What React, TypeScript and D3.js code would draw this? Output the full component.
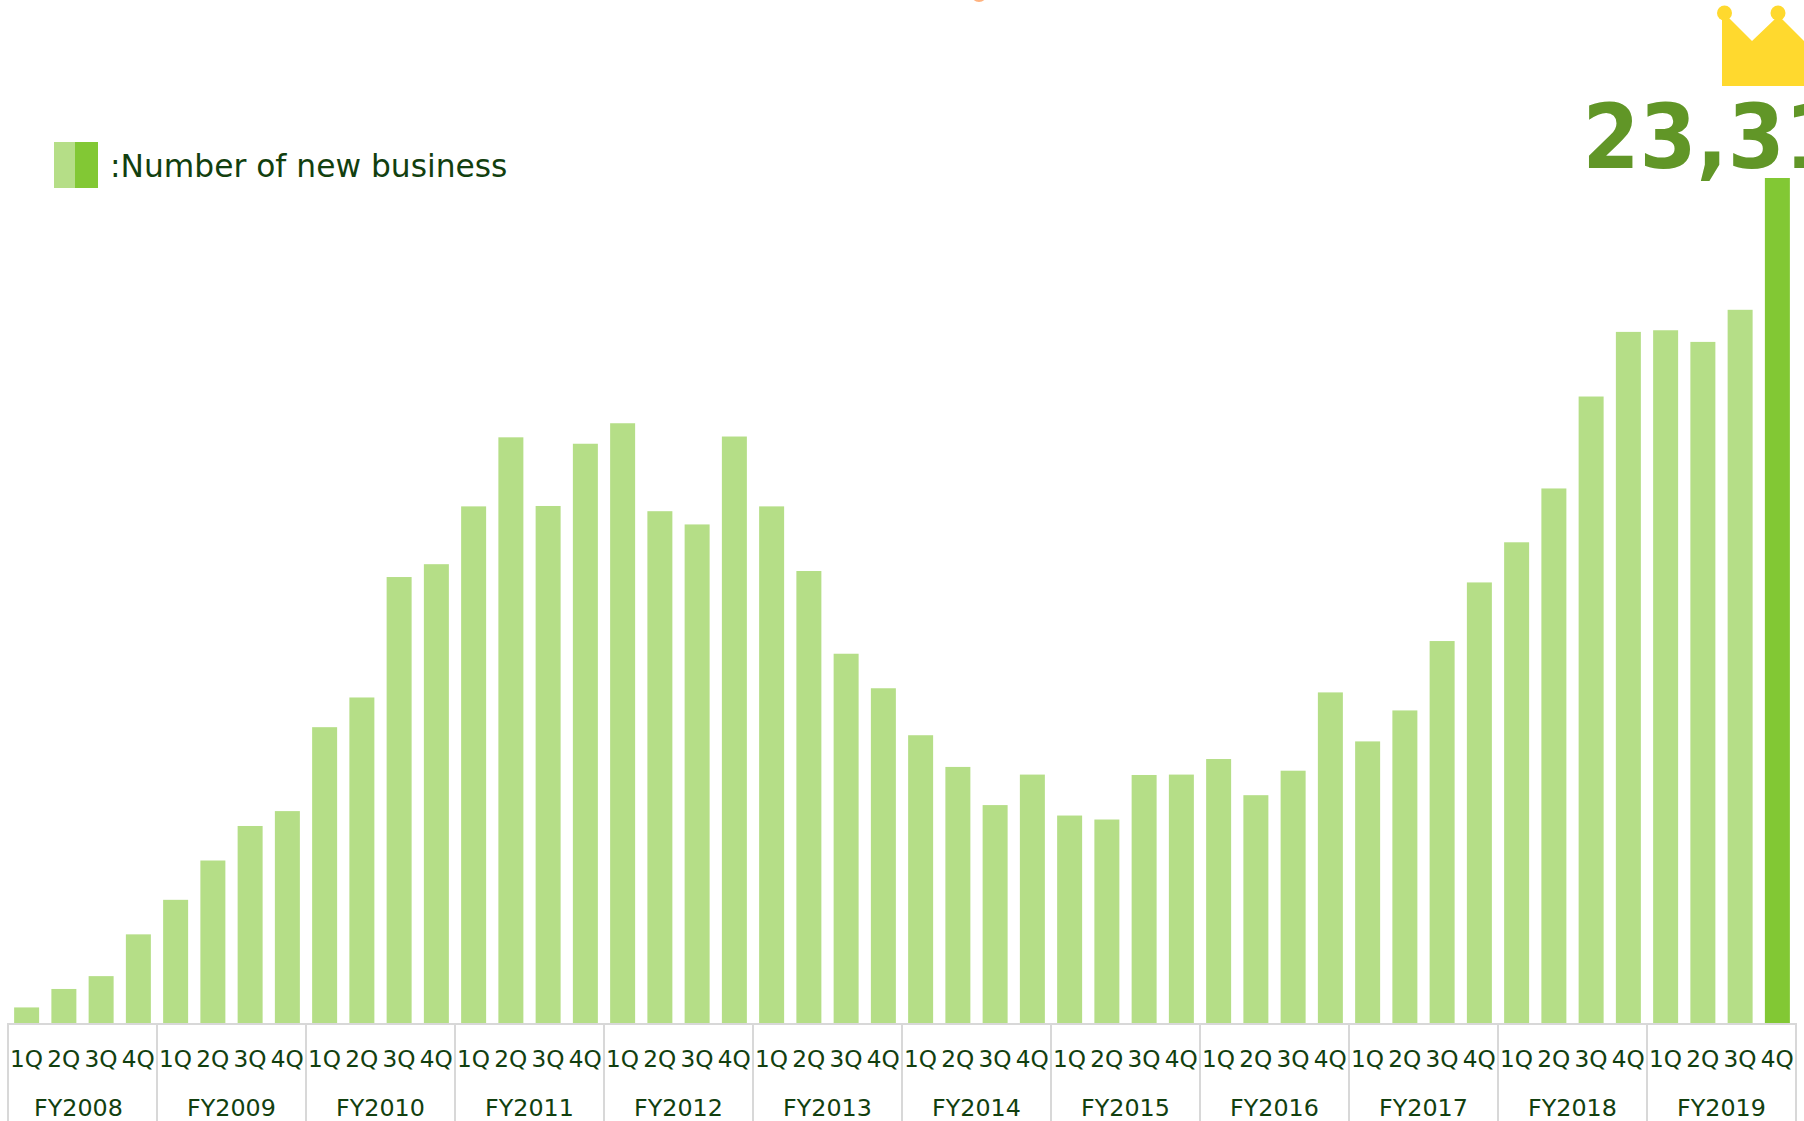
import React, { useMemo } from "react";
import * as d3 from "d3";

// Quarterly count of new business, FY2008 1Q through FY2019 4Q.
const fiscalYears = ["FY2008", "FY2009", "FY2010", "FY2011", "FY2012", "FY2013", "FY2014", "FY2015", "FY2016", "FY2017", "FY2018", "FY2019"];
const quarters = ["1Q", "2Q", "3Q", "4Q"];
const newBusiness = [
  443, 952, 1306, 2458,
  3410, 4494, 5446, 5856,
  8170, 8989, 12310, 12664,
  14258, 16162, 14269, 15985,
  16550, 14125, 13760, 16184,
  14258, 12476, 10195, 9243,
  7948, 7074, 6022, 6863,
  5734, 5624, 6852, 6863,
  7292, 6295, 6970, 9129,
  7778, 8632, 10545, 12161,
  13268, 14752, 17287, 19069,
  19114, 18793, 19678, 23312,
];
const legendLabel = ":Number of new business";
const latestLabel = "23,312";

const WIDTH = 1804;
const HEIGHT = 1121;
const BASELINE = 1023.5;
const TOP = 178;
const LIGHT = "#b5de87";
const STRONG = "#82c834";
const INK = "#123f0f";
const RULE = "#d8d8d8";
const FONT = "'DejaVu Sans', Verdana, sans-serif";

export default function App() {
  const keys = useMemo(() => fiscalYears.flatMap((fy) => quarters.map((q) => `${fy}-${q}`)), []);
  const x = useMemo(() => d3.scaleBand<string>().domain(keys).range([8, 1796]).paddingInner(0.329).paddingOuter(0.1645), [keys]);
  const y = useMemo(() => d3.scaleLinear().domain([0, newBusiness[newBusiness.length - 1]]).range([BASELINE, TOP]), []);
  const yearX = useMemo(() => d3.scaleBand<string>().domain(fiscalYears).range([8, 1796]), []);

  const crown = d3.line()([
    [1722, 86], [1722, 19], [1730, 19], [1752, 41], [1775, 19], [1782, 19], [1830, 67], [1830, 86],
  ]) + "Z";

  return (
    <svg width={WIDTH} height={HEIGHT} viewBox={`0 0 ${WIDTH} ${HEIGHT}`}
      style={{ position: "absolute", left: 0, top: 0, display: "block", background: "#fff" }}>
      {/* sliver of a decoration running off the top edge */}
      <circle cx={979} cy={-6} r={8} fill="#ffb27f" />

      {/* crown above the record quarter */}
      <g fill="#ffd92e">
        <path d={crown} />
        <circle cx={1724.5} cy={13} r={7.5} />
        <circle cx={1778} cy={13} r={7.5} />
      </g>

      {/* record value, stretched a little upward */}
      <text transform="translate(1582.5,168) scale(1,1.085)" fontFamily={FONT} fontWeight="bold" fontSize={82} fill="#619627">
        {latestLabel}
      </text>

      {/* legend */}
      <rect x={54} y={142} width={21} height={46} fill={LIGHT} />
      <rect x={75} y={142} width={23} height={46} fill={STRONG} />
      <text x={110} y={177} fontFamily={FONT} fontSize={31.3} fill={INK}>{legendLabel}</text>

      {/* bars */}
      {newBusiness.map((v, i) => (
        <rect key={keys[i]} x={x(keys[i])} y={y(v)} width={x.bandwidth()} height={BASELINE - y(v)}
          fill={i === newBusiness.length - 1 ? STRONG : LIGHT} />
      ))}

      {/* category frame */}
      <line x1={7} x2={1797} y1={1024} y2={1024} stroke={RULE} strokeWidth={2} />
      {[...fiscalYears, null].map((fy, i) => {
        const px = fy ? yearX(fy)! : 1796;
        return <line key={i} x1={px} x2={px} y1={1024} y2={HEIGHT} stroke={RULE} strokeWidth={2} />;
      })}

      {/* quarter labels */}
      {keys.map((k) => (
        <text key={k} x={x(k)! + x.bandwidth() / 2} y={1067} textAnchor="middle" fontFamily={FONT} fontSize={23.2} fill={INK}>
          {k.split("-")[1]}
        </text>
      ))}

      {/* fiscal year labels */}
      {fiscalYears.map((fy, i) => (
        <text key={fy} x={yearX(fy)! + yearX.bandwidth() / 2 - (i === 0 ? 4 : 0)} y={1116} textAnchor="middle" fontFamily={FONT} fontSize={23.8} fill={INK}>
          {fy}
        </text>
      ))}
    </svg>
  );
}
